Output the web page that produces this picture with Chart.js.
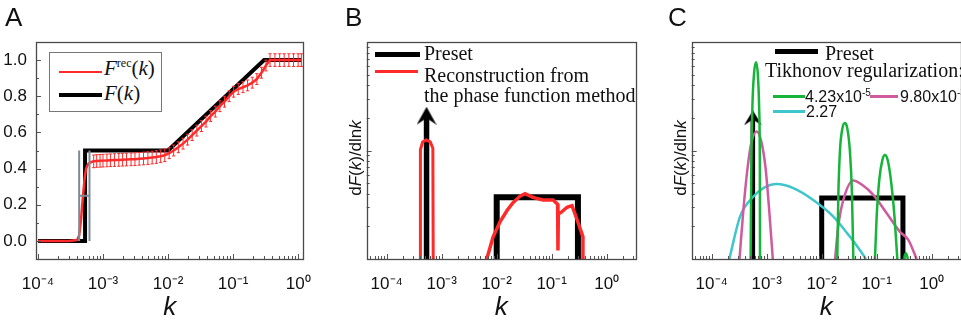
<!DOCTYPE html>
<html>
<head>
<meta charset="utf-8">
<script src="https://cdn.jsdelivr.net/npm/chart.js@4.4.0/dist/chart.umd.min.js"></script>
<style>
body { margin: 0; width: 961px; height: 324px; overflow: hidden; background: #fff; position: relative;
       font-family: "Liberation Sans", Arial, sans-serif; color: #111; }
canvas { position: absolute; top: 0; }
.abs { position: absolute; white-space: nowrap; }
.letter { font-size: 26px; line-height: 30px; }
.serif { font-family: "Liberation Serif", "Times New Roman", serif; font-size: 20px; line-height: 20px; }
.num { font-size: 16px; line-height: 18px; }
.num sup { font-size: 10px; vertical-align: 6px; line-height: 0; }
.swatch { position: absolute; }
.ytitle { position: absolute; width: 120px; height: 20px; line-height: 20px; text-align: center; font-size: 17px;
          transform: rotate(-90deg); }
.legA { position: absolute; left: 49px; top: 52px; width: 111px; height: 58px; border: 1px solid #777; background: #fff; }
</style>
</head>
<body>
<canvas id="cA" width="326" height="324" style="left:0px"></canvas>
<canvas id="cB" width="326" height="324" style="left:326px"></canvas>
<canvas id="cC" width="326" height="324" style="left:651px"></canvas>

<div class="abs letter" style="left:5px;top:2px">A</div>
<div class="abs letter" style="left:345px;top:2px">B</div>
<div class="abs letter" style="left:668px;top:2px">C</div>

<!-- legend A -->
<div class="legA"></div>
<div class="swatch" style="left:59px;top:71px;width:43px;height:2px;background:#ff2a2a"></div>
<div class="abs serif" style="left:104px;top:58px;font-size:21px"><i>F</i><sup style="font-size:12px;line-height:0">rec</sup>(<i>k</i>)</div>
<div class="swatch" style="left:59px;top:93px;width:43px;height:4px;background:#000"></div>
<div class="abs serif" style="left:104px;top:83px;font-size:21px"><i>F</i>(<i>k</i>)</div>

<!-- legend B -->
<div class="swatch" style="left:375px;top:52px;width:45px;height:5px;background:#000"></div>
<div class="abs serif" style="left:424px;top:43px">Preset</div>
<div class="swatch" style="left:375px;top:70px;width:43px;height:2.5px;background:#ff2a2a"></div>
<div class="abs serif" style="left:424px;top:65px">Reconstruction from</div>
<div class="abs serif" style="left:424px;top:85px">the phase function method</div>

<!-- legend C -->
<div class="swatch" style="left:775px;top:49px;width:43px;height:5px;background:#000"></div>
<div class="abs serif" style="left:825px;top:43px">Preset</div>
<div class="abs serif" style="left:765px;top:60px">Tikhonov regularization:</div>
<div class="swatch" style="left:773px;top:95px;width:32px;height:2.5px;background:#17b43a"></div>
<div class="abs num" style="left:805px;top:88px">4.23x10<sup>-5</sup></div>
<div class="swatch" style="left:870px;top:95px;width:28px;height:2.5px;background:#cf5a9e"></div>
<div class="abs num" style="left:900px;top:88px">9.80x10<sup>-3</sup></div>
<div class="swatch" style="left:773px;top:110px;width:32px;height:2.5px;background:#3ec6cc"></div>
<div class="abs num" style="left:806px;top:103px">2.27</div>

<div class="ytitle" style="left:296px;top:148px">d<i>F</i>(<i>k</i>)/dln<i>k</i></div>
<div class="ytitle" style="left:621px;top:148px">d<i>F</i>(<i>k</i>)/dln<i>k</i></div>

<script>
// ---- axis ticks ----
var xTickValues = [1e-4, 1e-3, 1e-2, 1e-1, 1];
var xTickLabels = ['10⁻⁴', '10⁻³', '10⁻²', '10⁻¹', '10⁰'];
var yTickValuesA = [0, 0.2, 0.4, 0.6, 0.8, 1.0];
var yTickLabelsA = ['0.0', '0.2', '0.4', '0.6', '0.8', '1.0'];
var yMinorA = [-0.1, 0.1, 0.3, 0.5, 0.7, 0.9, 1.1];

// ---- panel A ----
var presetKA = [1e-4, 5.3e-4, 5.3e-4, 0.01, 0.3, 1.12];
var presetFA = [0, 0, 0.5, 0.5, 1.0, 1.0];

var recK = [1.0e-4, 2.0e-4, 3.0e-4, 4.0e-4, 4.3e-4, 4.6e-4, 4.9e-4, 5.2e-4, 5.5e-4, 5.9e-4, 6.5e-4,
            7.2e-4, 8.0e-4, 9.0e-4, 1.0e-3, 1.15e-3, 1.3e-3, 1.5e-3, 1.75e-3, 2.0e-3, 2.3e-3, 2.7e-3,
            3.1e-3, 3.6e-3, 4.2e-3, 4.9e-3, 5.7e-3, 6.6e-3, 7.7e-3, 8.9e-3, 0.0104, 0.0122, 0.0144,
            0.017, 0.020, 0.0235, 0.0277, 0.0326, 0.0384, 0.0452, 0.0532, 0.0627, 0.0738, 0.087,
            0.102, 0.120, 0.142, 0.167, 0.197, 0.232, 0.273, 0.320, 0.370, 0.44, 0.52, 0.61, 0.72,
            0.85, 1.0, 1.12];
var recF = [0, 0, 0, 0.005, 0.03, 0.12, 0.24, 0.34, 0.40, 0.425, 0.435,
            0.44, 0.442, 0.443, 0.444, 0.445, 0.446, 0.447, 0.448, 0.449, 0.45, 0.451,
            0.452, 0.454, 0.456, 0.458, 0.461, 0.464, 0.468, 0.474, 0.485, 0.50, 0.518,
            0.538, 0.56, 0.585, 0.61, 0.635, 0.66, 0.69, 0.715, 0.745, 0.77, 0.80,
            0.825, 0.84, 0.85, 0.86, 0.875, 0.895, 0.93, 0.97, 1.0, 1.0, 1.0, 1.0, 1.0,
            1.0, 1.0, 1.0];
var recErr = [0, 0, 0, 0, 0, 0, 0, 0, 0, 0, 0,
              0.035, 0.035, 0.035, 0.035, 0.035, 0.035, 0.035, 0.035, 0.035, 0.035, 0.035,
              0.035, 0.035, 0.035, 0.035, 0.035, 0.035, 0.035, 0.035, 0.03, 0.03, 0.03,
              0.03, 0.03, 0.03, 0.03, 0.03, 0.03, 0.03, 0.03, 0.03, 0.03, 0.03,
              0.03, 0.03, 0.03, 0.03, 0.03, 0.03, 0.03, 0.03, 0.035, 0.035, 0.035, 0.035, 0.035,
              0.035, 0.035, 0.035];

var grayK = [4.3e-4, 4.3e-4, 5e-4, 6.2e-4, 6.2e-4, 5e-4, 4.3e-4, 6.2e-4];
var grayF = [0, 0.5, null, 0, 0.5, null, 0.25, 0.25];

// ---- panel B ----
var boxK = [0.01, 0.01, 0.3, 0.3];
var boxYB = [0.1, 0.37, 0.37, 0.1];
var arrowKB = 5.3e-4;
var arrowYB = [0.1, 2.09];

var recBK1 = [4.05e-4, 4.1e-4, 4.5e-4, 5.2e-4, 6.2e-4, 6.9e-4, 7.0e-4];
var recBY1 = [0.1, 1.02, 1.2, 1.25, 1.2, 1.05, 0.1];
var recBK2 = [6.6e-3, 8.6e-3, 0.0115, 0.0154, 0.0198, 0.0266, 0.0327, 0.0457, 0.069, 0.106,
              0.128, 0.13, 0.132, 0.15, 0.19, 0.234, 0.29, 0.37, 0.37];
var recBY2 = [0.1, 0.16, 0.22, 0.28, 0.33, 0.38, 0.40, 0.37, 0.35, 0.35,
              0.32, 0.12, 0.26, 0.27, 0.30, 0.31, 0.23, 0.16, 0.1];

// ---- panel C ----
var boxYC = [0.1, 0.365, 0.365, 0.1];
var arrowKC = 5.6e-4;
var arrowYC = [0.1, 2.0];

var greenK1 = [5.1e-4, 5.25e-4, 5.5e-4, 5.9e-4, 6.4e-4, 6.9e-4, 7.3e-4, 7.5e-4, 7.55e-4];
var greenY1 = [0.1, 0.7, 2.6, 5.2, 6.5, 5.0, 2.4, 0.7, 0.1];
var greenK2 = [0.0192, 0.0201, 0.0215, 0.0238, 0.0265, 0.0292, 0.0325, 0.0355, 0.0376];
var greenY2 = [0.1, 0.4, 1.0, 1.6, 1.79, 1.6, 1.0, 0.4, 0.1];
var greenK3 = [0.093, 0.1, 0.112, 0.127, 0.141, 0.158, 0.18, 0.21, 0.237];
var greenY3 = [0.1, 0.25, 0.55, 0.82, 0.91, 0.82, 0.55, 0.25, 0.1];
var greenK4 = [0.31, 0.34, 0.37];
var greenY4 = [0.1, 0.113, 0.1];

var magK1 = [3.2e-4, 3.8e-4, 4.5e-4, 5.3e-4, 6.6e-4, 8.0e-4, 9.5e-4, 1.1e-3, 1.29e-3];
var magY1 = [0.1, 0.3, 0.7, 1.2, 1.5, 1.2, 0.7, 0.3, 0.1];
var magK2 = [0.0175, 0.02, 0.0247, 0.0376, 0.055, 0.0867, 0.152, 0.265, 0.376, 0.533];
var magY2 = [0.1, 0.2, 0.35, 0.53, 0.48, 0.39, 0.264, 0.178, 0.15, 0.1];

var cyanK = [2.09e-4, 3.27e-4, 5.7e-4, 8.7e-4, 1.52e-3, 3.05e-3, 7.0e-3, 0.0163, 0.0327, 0.05, 0.0638];
var cyanY = [0.1, 0.246, 0.375, 0.45, 0.49, 0.45, 0.35, 0.246, 0.16, 0.12, 0.1];

var RED = '#ff2a2a', GREEN = '#17b43a', MAGENTA = '#cf5a9e', CYAN = '#3ec6cc', GRAY = '#7d8b99';

function pts(ks, ys) {
    return ks.map(function(k, i) { return { x: k, y: ys[i] }; });
}

function arrowHead(w, h) {
    var c = document.createElement('canvas');
    c.width = w; c.height = h;
    var g = c.getContext('2d');
    g.fillStyle = '#000';
    g.beginPath();
    g.moveTo(w / 2, 0);
    g.lineTo(w, h);
    g.lineTo(w / 2, h * 0.62);
    g.lineTo(0, h);
    g.closePath();
    g.fill();
    return c;
}

// frame + inward ticks, drawn from the scales
var framePlugin = {
    id: 'frame',
    afterDatasetsDraw: function(chart, args, opts) {
        var ctx = chart.ctx, a = chart.chartArea, x = chart.scales.x, y = chart.scales.y;
        ctx.save();
        ctx.strokeStyle = '#555';
        ctx.lineWidth = 1;
        function tick(x0, y0, x1, y1) {
            ctx.beginPath(); ctx.moveTo(x0, y0); ctx.lineTo(x1, y1); ctx.stroke();
        }
        var e, m, v, p;
        for (e = Math.floor(Math.log10(x.min)); e <= Math.ceil(Math.log10(x.max)); e++) {
            for (m = 1; m < 10; m++) {
                v = m * Math.pow(10, e);
                if (v <= x.min || v >= x.max) continue;
                p = Math.round(x.getPixelForValue(v)) + 0.5;
                tick(p, a.bottom, p, a.bottom - (m === 1 ? 5 : 3));
            }
        }
        if (y.type === 'logarithmic') {
            for (e = Math.floor(Math.log10(y.min)); e <= Math.ceil(Math.log10(y.max)); e++) {
                for (m = 1; m < 10; m++) {
                    v = m * Math.pow(10, e);
                    if (v <= y.min || v >= y.max) continue;
                    p = Math.round(y.getPixelForValue(v)) + 0.5;
                    tick(a.left, p, a.left + (m === 1 ? 5 : 3), p);
                }
            }
        } else {
            (opts.yMajor || []).forEach(function(val) {
                p = Math.round(y.getPixelForValue(val)) + 0.5;
                tick(a.left, p, a.left + 5, p);
            });
            (opts.yMinor || []).forEach(function(val) {
                p = Math.round(y.getPixelForValue(val)) + 0.5;
                tick(a.left, p, a.left + 3, p);
            });
        }
        ctx.lineWidth = 1.3;
        ctx.strokeStyle = '#4a4a4a';
        ctx.strokeRect(Math.round(a.left) + 0.5, Math.round(a.top) + 0.5,
                       Math.round(a.width), Math.round(a.height));
        ctx.restore();
    }
};

// vertical error bars with caps, drawn just under their own line
var errorBarPlugin = {
    id: 'errbars',
    beforeDatasetDraw: function(chart, args) {
        var ds = chart.data.datasets[args.index];
        if (!ds.errors) return;
        var ctx = chart.ctx, y = chart.scales.y, a = chart.chartArea;
        ctx.save();
        ctx.beginPath();
        ctx.rect(a.left, a.top, a.width, a.height);
        ctx.clip();
        ctx.strokeStyle = ds.borderColor;
        ctx.lineWidth = 1;
        args.meta.data.forEach(function(pt, i) {
            var e = ds.errors[i];
            if (!e) return;
            var v = ds.data[i].y;
            var y0 = y.getPixelForValue(v - e), y1 = y.getPixelForValue(v + e);
            ctx.beginPath();
            ctx.moveTo(pt.x, y0); ctx.lineTo(pt.x, y1);
            ctx.moveTo(pt.x - 1.6, y0); ctx.lineTo(pt.x + 1.6, y0);
            ctx.moveTo(pt.x - 1.6, y1); ctx.lineTo(pt.x + 1.6, y1);
            ctx.stroke();
        });
        ctx.restore();
    }
};

var tickFont = { family: 'Liberation Sans', size: 17 };

function xAxis(min, max) {
    return {
        type: 'logarithmic',
        min: min,
        max: max,
        afterBuildTicks: function(s) { s.ticks = xTickValues.map(function(v) { return { value: v }; }); },
        afterFit: function(s) { s.height = 65; },
        ticks: {
            callback: function(v, i) { return xTickLabels[i]; },
            font: tickFont, color: '#111', padding: 15, autoSkip: false, maxRotation: 0
        },
        grid: { display: false, drawTicks: false },
        border: { display: false },
        title: {
            display: true, text: 'k', color: '#111',
            font: { family: 'Liberation Sans', size: 26, style: 'italic' },
            padding: { top: 0, bottom: 1 }
        }
    };
}

function line(data, color, width, extra) {
    var ds = {
        data: data, borderColor: color, backgroundColor: color, borderWidth: width,
        pointRadius: 0, tension: 0, fill: false, spanGaps: false
    };
    for (var key in extra) ds[key] = extra[key];
    return ds;
}

function baseOptions(yScale, rightPad, frameOpts) {
    return {
        responsive: false,
        animation: false,
        events: [],
        layout: { padding: { top: 42, right: rightPad, left: 0, bottom: 0 } },
        scales: { x: null, y: yScale },
        plugins: { legend: { display: false }, tooltip: { enabled: false }, frame: frameOpts || {} }
    };
}

// ---- chart A ----
var optA = baseOptions({
    type: 'linear', min: -0.1, max: 1.1,
    afterBuildTicks: function(s) { s.ticks = yTickValuesA.map(function(v) { return { value: v }; }); },
    afterFit: function(s) { s.width = 36; },
    ticks: { callback: function(v, i) { return yTickLabelsA[i]; }, font: tickFont, color: '#111', padding: 9 },
    grid: { display: false, drawTicks: false },
    border: { display: false }
}, 21, { yMajor: yTickValuesA, yMinor: yMinorA });
optA.scales.x = xAxis(Math.pow(10, -4.03), Math.pow(10, 0.08));

new Chart(document.getElementById('cA'), {
    type: 'line',
    data: {
        datasets: [
            line(pts(grayK, grayF), GRAY, 2),
            line(pts(recK, recF), RED, 2.5, { errors: recErr }),
            line(pts(presetKA, presetFA), '#000', 4)
        ]
    },
    options: optA,
    plugins: [framePlugin, errorBarPlugin]
});

// ---- charts B and C ----
function yLogAxis() {
    return {
        type: 'logarithmic', min: 0.1, max: 10,
        afterFit: function(s) { s.width = 40.7; },
        ticks: { display: false },
        grid: { display: false, drawTicks: false },
        border: { display: false }
    };
}

var xMinBC = Math.pow(10, -4.364), xMaxBC = Math.pow(10, 0.533);

var optB = baseOptions(yLogAxis(), 16);
optB.scales.x = xAxis(xMinBC, xMaxBC);

new Chart(document.getElementById('cB'), {
    type: 'line',
    data: {
        datasets: [
            line(pts(recBK1, recBY1), RED, 3),
            line(pts(recBK2, recBY2), RED, 3.5),
            line([{ x: arrowKB, y: arrowYB[1] }], '#000', 0,
                 { showLine: false, pointRadius: 9, pointStyle: arrowHead(20, 18) }),
            line(pts([arrowKB, arrowKB], arrowYB), '#000', 5.5),
            line(pts(boxK, boxYB), '#000', 6, { borderJoinStyle: 'miter' })
        ]
    },
    options: optB,
    plugins: [framePlugin]
});

var optC = baseOptions(yLogAxis(), 16);
optC.scales.x = xAxis(xMinBC, xMaxBC);

var smooth = { cubicInterpolationMode: 'monotone' };
new Chart(document.getElementById('cC'), {
    type: 'line',
    data: {
        datasets: [
            line(pts(greenK1, greenY1), GREEN, 2.5, smooth),
            line(pts(greenK2, greenY2), GREEN, 2.5, smooth),
            line(pts(greenK3, greenY3), GREEN, 2.5, smooth),
            line(pts(greenK4, greenY4), GREEN, 2.5, smooth),
            line(pts(magK1, magY1), MAGENTA, 2.5, smooth),
            line(pts(magK2, magY2), MAGENTA, 2.5, smooth),
            line(pts(cyanK, cyanY), CYAN, 2.5, smooth),
            line([{ x: arrowKC, y: arrowYC[1] }], '#000', 0,
                 { showLine: false, pointRadius: 8, pointStyle: arrowHead(18, 15) }),
            line(pts([arrowKC, arrowKC], arrowYC), '#000', 4.5),
            line(pts(boxK, boxYC), '#000', 5, { borderJoinStyle: 'miter' })
        ]
    },
    options: optC,
    plugins: [framePlugin]
});
</script>
</body>
</html>
